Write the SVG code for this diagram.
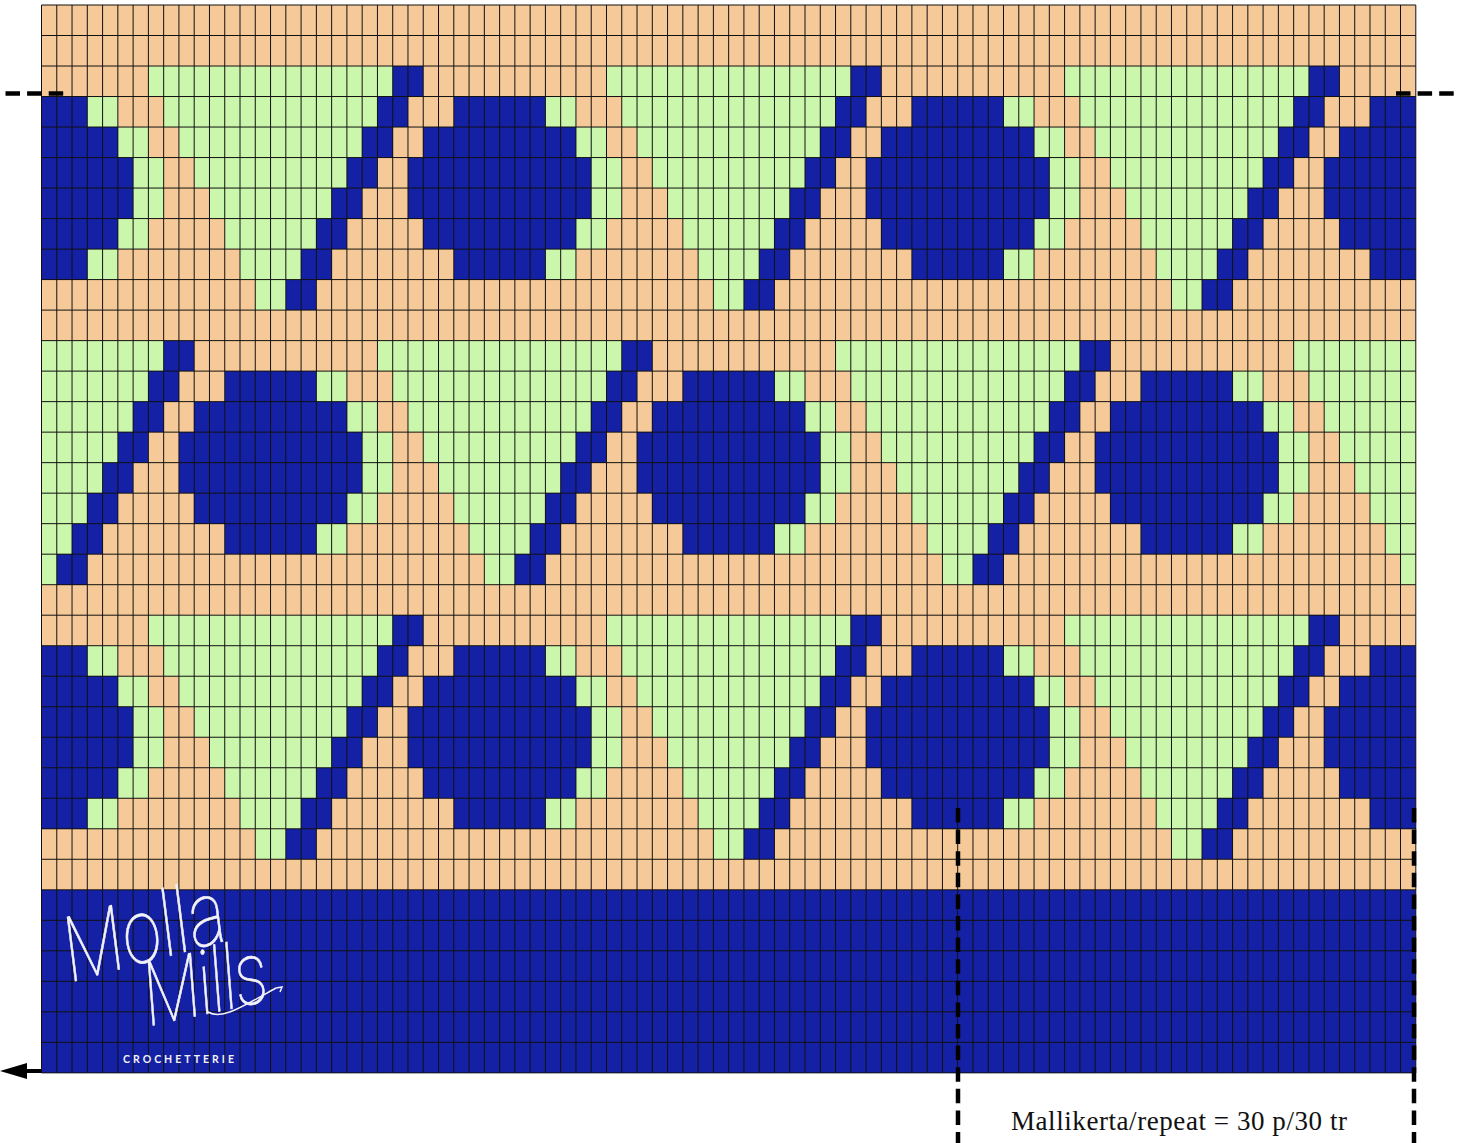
<svg xmlns="http://www.w3.org/2000/svg" width="1462" height="1143" viewBox="0 0 1462 1143">
<style>
.g{fill:#cbf7ac}.b{fill:#1521a5}
rect{shape-rendering:crispEdges}
.grid{fill:none;stroke:#111;stroke-width:1}
.dash{fill:none;stroke:#000;stroke-width:4.5;stroke-dasharray:14.5 7.1}
.logo{font-family:"Roboto","Liberation Sans",sans-serif;font-weight:100;font-style:italic;fill:#f2f2f8;stroke:#f2f2f8;stroke-width:.5}
</style>
<defs>
<clipPath id="chart"><rect x="41.5" y="5" width="1374.3" height="1068"/></clipPath>
<g id="motif">
<g class="g">
<rect x="7" y="0" width="16" height="1"/>
<rect x="3" y="1" width="2" height="1"/><rect x="8" y="1" width="14" height="1"/>
<rect x="5" y="2" width="2" height="1"/><rect x="9" y="2" width="12" height="1"/>
<rect x="6" y="3" width="2" height="1"/><rect x="10" y="3" width="10" height="1"/>
<rect x="6" y="4" width="2" height="1"/><rect x="11" y="4" width="8" height="1"/>
<rect x="5" y="5" width="2" height="1"/><rect x="12" y="5" width="6" height="1"/>
<rect x="3" y="6" width="2" height="1"/><rect x="13" y="6" width="4" height="1"/>
<rect x="14" y="7" width="2" height="1"/>
</g>
<g class="b">
<rect x="23" y="0" width="2" height="1"/>
<rect x="0" y="1" width="3" height="1"/><rect x="22" y="1" width="2" height="1"/><rect x="27" y="1" width="3" height="1"/>
<rect x="0" y="2" width="5" height="1"/><rect x="21" y="2" width="2" height="1"/><rect x="25" y="2" width="5" height="1"/>
<rect x="0" y="3" width="6" height="1"/><rect x="20" y="3" width="2" height="1"/><rect x="24" y="3" width="6" height="1"/>
<rect x="0" y="4" width="6" height="1"/><rect x="19" y="4" width="2" height="1"/><rect x="24" y="4" width="6" height="1"/>
<rect x="0" y="5" width="5" height="1"/><rect x="18" y="5" width="2" height="1"/><rect x="25" y="5" width="5" height="1"/>
<rect x="0" y="6" width="3" height="1"/><rect x="17" y="6" width="2" height="1"/><rect x="27" y="6" width="3" height="1"/>
<rect x="16" y="7" width="2" height="1"/>
</g>
</g>
<marker id="arrow" markerUnits="userSpaceOnUse" markerWidth="28" markerHeight="18" refX="0" refY="9" orient="auto"><path d="M0 1V17L27 9Z" fill="#000"/></marker>
</defs>
<rect width="1462" height="1143" fill="#fff"/>
<g id="chart-fill" clip-path="url(#chart)">
<rect x="41.5" y="5" width="1374.3" height="1068" fill="#f6ca98"/>
<use href="#motif" transform="translate(41.5 66.02) scale(15.27 30.51)"/>
<use href="#motif" transform="translate(499.6 66.02) scale(15.27 30.51)"/>
<use href="#motif" transform="translate(957.7 66.02) scale(15.27 30.51)"/>
<use href="#motif" transform="translate(-187.55 340.61) scale(15.27 30.51)"/>
<use href="#motif" transform="translate(270.55 340.61) scale(15.27 30.51)"/>
<use href="#motif" transform="translate(728.65 340.61) scale(15.27 30.51)"/>
<use href="#motif" transform="translate(1186.75 340.61) scale(15.27 30.51)"/>
<use href="#motif" transform="translate(41.5 615.2) scale(15.27 30.51)"/>
<use href="#motif" transform="translate(499.6 615.2) scale(15.27 30.51)"/>
<use href="#motif" transform="translate(957.7 615.2) scale(15.27 30.51)"/>
<rect class="b" x="41.5" y="889.8" width="1374.3" height="183.2"/>
</g>
<path id="grid-v" class="grid" d="M41.5 5v1068
m15.27-1068v1068m15.27-1068v1068m15.27-1068v1068m15.27-1068v1068m15.27-1068v1068m15.27-1068v1068m15.27-1068v1068m15.27-1068v1068m15.27-1068v1068m15.27-1068v1068
m15.27-1068v1068m15.27-1068v1068m15.27-1068v1068m15.27-1068v1068m15.27-1068v1068m15.27-1068v1068m15.27-1068v1068m15.27-1068v1068m15.27-1068v1068m15.27-1068v1068
m15.27-1068v1068m15.27-1068v1068m15.27-1068v1068m15.27-1068v1068m15.27-1068v1068m15.27-1068v1068m15.27-1068v1068m15.27-1068v1068m15.27-1068v1068m15.27-1068v1068
m15.27-1068v1068m15.27-1068v1068m15.27-1068v1068m15.27-1068v1068m15.27-1068v1068m15.27-1068v1068m15.27-1068v1068m15.27-1068v1068m15.27-1068v1068m15.27-1068v1068
m15.27-1068v1068m15.27-1068v1068m15.27-1068v1068m15.27-1068v1068m15.27-1068v1068m15.27-1068v1068m15.27-1068v1068m15.27-1068v1068m15.27-1068v1068m15.27-1068v1068
m15.27-1068v1068m15.27-1068v1068m15.27-1068v1068m15.27-1068v1068m15.27-1068v1068m15.27-1068v1068m15.27-1068v1068m15.27-1068v1068m15.27-1068v1068m15.27-1068v1068
m15.27-1068v1068m15.27-1068v1068m15.27-1068v1068m15.27-1068v1068m15.27-1068v1068m15.27-1068v1068m15.27-1068v1068m15.27-1068v1068m15.27-1068v1068m15.27-1068v1068
m15.27-1068v1068m15.27-1068v1068m15.27-1068v1068m15.27-1068v1068m15.27-1068v1068m15.27-1068v1068m15.27-1068v1068m15.27-1068v1068m15.27-1068v1068m15.27-1068v1068
m15.27-1068v1068m15.27-1068v1068m15.27-1068v1068m15.27-1068v1068m15.27-1068v1068m15.27-1068v1068m15.27-1068v1068m15.27-1068v1068m15.27-1068v1068m15.27-1068v1068"/>
<path id="grid-h" class="grid" d="M41.5 5h1374.3
m-1374.3 30.51h1374.3m-1374.3 30.51h1374.3m-1374.3 30.51h1374.3m-1374.3 30.51h1374.3m-1374.3 30.51h1374.3
m-1374.3 30.51h1374.3m-1374.3 30.51h1374.3m-1374.3 30.51h1374.3m-1374.3 30.51h1374.3m-1374.3 30.51h1374.3
m-1374.3 30.51h1374.3m-1374.3 30.51h1374.3m-1374.3 30.51h1374.3m-1374.3 30.51h1374.3m-1374.3 30.51h1374.3
m-1374.3 30.51h1374.3m-1374.3 30.51h1374.3m-1374.3 30.51h1374.3m-1374.3 30.51h1374.3m-1374.3 30.51h1374.3
m-1374.3 30.51h1374.3m-1374.3 30.51h1374.3m-1374.3 30.51h1374.3m-1374.3 30.51h1374.3m-1374.3 30.51h1374.3
m-1374.3 30.51h1374.3m-1374.3 30.51h1374.3m-1374.3 30.51h1374.3m-1374.3 30.51h1374.3m-1374.3 30.51h1374.3
m-1374.3 30.51h1374.3m-1374.3 30.51h1374.3m-1374.3 30.51h1374.3m-1374.3 30.51h1374.3m-1374.3 30.51h1374.3"/>
<g id="logo">
<text class="logo" font-size="72" transform="translate(72 982) rotate(-15) scale(1 1.25)" textLength="165">Molla</text>
<text class="logo" font-size="68" transform="translate(150 1026) rotate(-12) scale(1 1.3)" textLength="125">Mills</text>
<path d="M208 1012C222 1020 240 1008 276 988" fill="none" stroke="#f2f2f8" stroke-width="1.5"/>
<path d="M276 988l6 -1l-2 5" fill="none" stroke="#f2f2f8" stroke-width="1.5"/>
<text x="123" y="1062.5" font-family="Lato,'Liberation Sans',sans-serif" font-weight="700" font-size="10.5" letter-spacing="2" fill="#f2f2f8" textLength="113">CROCHETTERIE</text>
</g>
<g id="connectors">
<path class="dash" d="M5.5 93.5H64"/>
<path class="dash" d="M1396 93.5H1454"/>
<path class="dash" d="M958 808V1143"/>
<path class="dash" d="M1414 808V1143"/>
<path d="M41.5 1071H27" stroke="#000" stroke-width="4" fill="none" marker-end="url(#arrow)"/>
</g>
<text id="repeat-label" x="1011" y="1130" font-family="'Liberation Serif',serif" font-size="27" textLength="336" fill="#111">Mallikerta/repeat = 30 p/30 tr</text>
</svg>
